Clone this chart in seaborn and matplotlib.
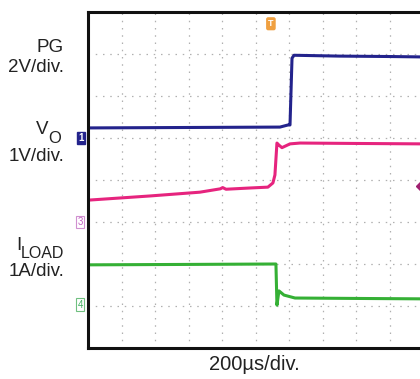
import matplotlib
matplotlib.use("Agg")
import matplotlib.pyplot as plt
import matplotlib.transforms as mtransforms
import seaborn as sns
import pandas as pd

# ---- data (time in divisions, amplitude in divisions) ----
pg_t = [0.0, 5.73, 5.97, 6.03, 6.09, 6.15, 7.5, 9.0, 10.0]
pg_v = [5.24, 5.26, 5.31, 5.31, 6.90, 6.97, 6.95, 6.94, 6.93]

vo_t = [0.0, 1.85, 3.34, 3.95, 4.02, 4.12, 4.84, 5.37, 5.52, 5.58, 5.64, 5.70, 5.79, 6.03, 6.33, 8.0, 10.0]
vo_v = [3.52, 3.62, 3.71, 3.79, 3.82, 3.78, 3.81, 3.83, 3.93, 4.12, 4.88, 4.83, 4.77, 4.86, 4.88, 4.87, 4.86]

il_t = [0.0, 3.0, 5.61, 5.64, 5.70, 5.85, 6.18, 8.0, 10.0]
il_v = [1.98, 1.99, 2.00, 1.02, 1.36, 1.26, 1.19, 1.18, 1.17]

colors = {"PG": "#23238c", "VO": "#e6247e", "ILOAD": "#35b035"}

df = pd.concat([
    pd.DataFrame({"t": pg_t, "v": pg_v, "ch": "PG"}),
    pd.DataFrame({"t": vo_t, "v": vo_v, "ch": "VO"}),
    pd.DataFrame({"t": il_t, "v": il_v, "ch": "ILOAD"}),
])

sns.set_style("white")
plt.rcParams["font.family"] = ["Liberation Sans", "DejaVu Sans"]

fig = plt.figure(figsize=(4.2, 3.79), dpi=100)
ax = fig.add_axes([88 / 420, 1 - 348 / 379, 335 / 420, 336 / 379])

sns.lineplot(data=df, x="t", y="v", hue="ch", estimator=None, sort=False,
             palette=colors, linewidth=2.2, legend=False, ax=ax)

ax.set_xlim(0, 10)
ax.set_ylim(0, 8)
ax.set_xticks(range(0, 11))
ax.set_yticks(range(0, 9))
ax.tick_params(length=0, labelbottom=False, labelleft=False)
ax.set_xlabel("")
ax.set_ylabel("")
ax.grid(True, color="#b0b0b0", linewidth=0.9, linestyle=(0, (1.2, 4.6)))
ax.set_axisbelow(True)
for s in ["left", "top", "bottom"]:
    ax.spines[s].set_visible(True)
    ax.spines[s].set_color("#111111")
    ax.spines[s].set_linewidth(2.2)
ax.spines["right"].set_visible(False)

# channel labels on the left
FS = 13.5
def ft(x, y, s, fs=FS, ha="right"):
    fig.text(x / 420, 1 - y / 379, s, ha=ha, va="center", fontsize=fs, color="#222222")

ft(64, 47, "PG")
ft(64, 67, "2V/div.")
ft(48, 130, "V")
ft(48, 139, "O", fs=12, ha="left")
ft(64, 157, "1V/div.")
ft(21, 245, "I")
ft(21, 253, "LOAD", fs=11.5, ha="left")
ft(64, 272, "1A/div.")
fig.text(254 / 420, 1 - 364 / 379, "200µs/div.", ha="center", va="center",
         fontsize=14.5, color="#222222")

# channel ground markers
bt = mtransforms.blended_transform_factory(fig.transFigure, ax.transData)
ax.text(81 / 420, 5.0, "1", transform=bt, ha="center", va="center", fontsize=7,
        color="white", fontweight="bold",
        bbox=dict(boxstyle="square,pad=0.15", fc="#23238c", ec="#23238c"))
ax.text(80 / 420, 3.0, "3", transform=bt, ha="center", va="center", fontsize=7,
        color="#c060c0",
        bbox=dict(boxstyle="square,pad=0.15", fc="white", ec="#d090d0", lw=0.8))
ax.text(80 / 420, 1.03, "4", transform=bt, ha="center", va="center", fontsize=7,
        color="#40b060",
        bbox=dict(boxstyle="square,pad=0.15", fc="white", ec="#70c080", lw=0.8))

# trigger marker at top
ax.text(5.46, 7.72, "T", ha="center", va="center", fontsize=6.5, color="white",
        fontweight="bold",
        bbox=dict(boxstyle="round,pad=0.15", fc="#f0a040", ec="#f0a040"))
# right marker for VO
ax.plot([9.95], [3.86], marker="D", ms=5, color="#a02070", clip_on=False)

fig.savefig("out.png", dpi=100)
